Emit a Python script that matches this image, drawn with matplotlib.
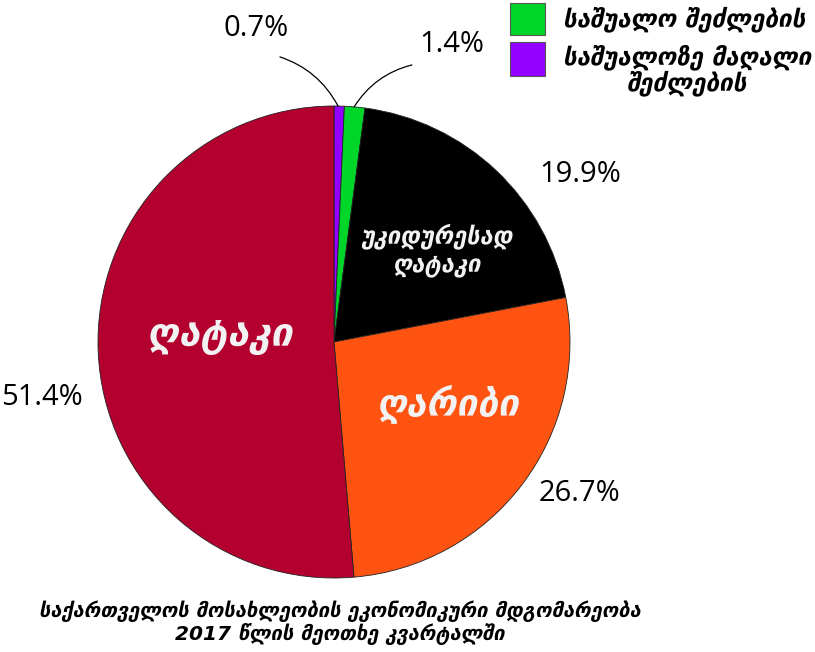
import matplotlib.pyplot as plt
from matplotlib.patches import Rectangle

# Data (clockwise from top)
categories = ["საშუალოზე მაღალი შეძლების", "საშუალო შეძლების",
              "უკიდურესად ღატაკი", "ღარიბი", "ღატაკი"]
shares = [0.7, 1.4, 19.9, 26.7, 51.4]
colors = ["#9400FF", "#00D62A", "#000000", "#FF5312", "#B3002F"]
pct_labels = ["0.7%", "1.4%", "19.9%", "26.7%", "51.4%"]

W, H = 815, 652
fig = plt.figure(figsize=(W / 100, H / 100), dpi=100)
cx, cy, r = 334, 342, 236
ax = fig.add_axes([(cx - r) / W, (H - cy - r) / H, 2 * r / W, 2 * r / H])

wedges, _ = ax.pie(shares, colors=colors, startangle=90, counterclock=False,
                   radius=1, wedgeprops=dict(edgecolor="#222222", linewidth=0.6))
ax.set_xlim(-1, 1)
ax.set_ylim(-1, 1)
ax.set_aspect("equal")
ax.axis("off")

pct_font = dict(family="Open Sans", fontsize=21, color="black")

# small slices: curved leader lines
ax.annotate("", xy=(0.017, 1.0), xytext=(-0.229, 1.208), annotation_clip=False,
            arrowprops=dict(arrowstyle="-", color="black", lw=0.9,
                            shrinkA=0, shrinkB=0,
                            connectionstyle="arc3,rad=-0.2"))
ax.annotate("", xy=(0.085, 0.996), xytext=(0.33, 1.174), annotation_clip=False,
            arrowprops=dict(arrowstyle="-", color="black", lw=0.9,
                            shrinkA=0, shrinkB=0,
                            connectionstyle="arc3,rad=0.2"))
ax.text(-0.33, 1.33, pct_labels[0], ha="center", va="center", **pct_font)
ax.text(0.5, 1.26, pct_labels[1], ha="center", va="center", **pct_font)
ax.text(1.042, 0.708, pct_labels[2], ha="center", va="center", **pct_font)
ax.text(1.042, -0.64, pct_labels[3], ha="center", va="center", **pct_font)
ax.text(-1.237, -0.237, pct_labels[4], ha="center", va="center", **pct_font)

geo = dict(family="DejaVu Sans", weight="bold", style="italic", color="#F2F2F2",
           ha="center", va="center")
ax.text(0.436, 0.39, "უკიდურესად\nღატაკი", fontsize=17, linespacing=1.2, **geo)
ax.text(-0.483, 0.025, categories[4], fontsize=28, **geo)
ax.text(0.479, -0.267, categories[3], fontsize=26.5, **geo)

# legend drawn by hand (two small slices only)
leg_font = dict(family="DejaVu Sans", weight="bold", style="italic", size=17.5)
for (y0, y1), c in [((3, 35), colors[1]), ((42, 76), colors[0])]:
    fig.patches.append(Rectangle((510 / W, 1 - y1 / H), 35 / W, (y1 - y0) / H,
                                 transform=fig.transFigure, facecolor=c,
                                 edgecolor="#555555", lw=0.8))
fig.text(563 / W, 1 - 19 / H, "საშუალო შეძლების", ha="left", va="center", **leg_font)
fig.text(563 / W, 1 - 70 / H, "საშუალოზე მაღალი\nშეძლების", ha="left", va="center",
         multialignment="center", linespacing=1.0, **leg_font)

fig.text(340 / W, 1 - 623 / H,
         "საქართველოს მოსახლეობის ეკონომიკური მდგომარეობა\n2017 წლის მეოთხე კვარტალში",
         ha="center", va="center", fontsize=14.5, family="DejaVu Sans",
         weight="bold", style="italic", linespacing=1.05)

fig.savefig("out.png", dpi=100)
